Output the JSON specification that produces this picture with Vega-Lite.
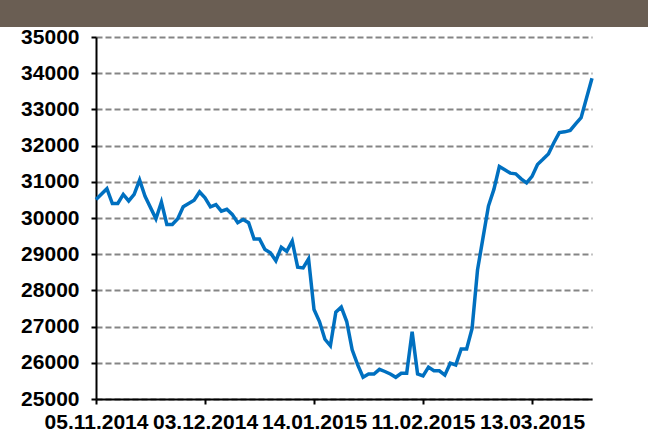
{
  "$schema": "https://vega.github.io/schema/vega-lite/v6.json",
  "padding": 0,
  "background": "white",
  "bounds": "flush",
  "spacing": 10,
  "config": {
    "view": {"stroke": null},
    "axis": {
      "labelFont": "Liberation Sans",
      "labelFontWeight": "bold",
      "labelFontSize": 21,
      "labelColor": "black",
      "domainColor": "black",
      "domainWidth": 2,
      "tickColor": "black",
      "tickWidth": 2,
      "tickSize": 5,
      "title": null
    }
  },
  "vconcat": [
    {
      "width": 648,
      "height": 27,
      "view": {"fill": "#6a5e53", "stroke": null},
      "data": {"values": [{}]},
      "mark": {"type": "text", "opacity": 0},
      "encoding": {}
    },
    {
      "bounds": "flush",
      "spacing": 0,
      "hconcat": [
        {
          "width": 96,
          "height": 362,
          "data": {"values": [{}]},
          "mark": {"type": "text", "opacity": 0},
          "encoding": {}
        },
        {
          "width": 496,
          "height": 362,
          "data": {
            "values": [
              {"day": 0, "value": 30510}, {"day": 2, "value": 30810}, {"day": 3, "value": 30400}, {"day": 4, "value": 30400},
              {"day": 5, "value": 30650}, {"day": 6, "value": 30470}, {"day": 7, "value": 30650}, {"day": 8, "value": 31050},
              {"day": 9, "value": 30600}, {"day": 11, "value": 29980}, {"day": 12, "value": 30440}, {"day": 13, "value": 29820},
              {"day": 14, "value": 29820}, {"day": 15, "value": 29980}, {"day": 16, "value": 30310}, {"day": 18, "value": 30490},
              {"day": 19, "value": 30720}, {"day": 20, "value": 30560}, {"day": 21, "value": 30310}, {"day": 22, "value": 30370},
              {"day": 23, "value": 30190}, {"day": 24, "value": 30240}, {"day": 25, "value": 30100}, {"day": 26, "value": 29870},
              {"day": 27, "value": 29960}, {"day": 28, "value": 29870}, {"day": 29, "value": 29420}, {"day": 30, "value": 29420},
              {"day": 31, "value": 29130}, {"day": 32, "value": 29040}, {"day": 33, "value": 28820}, {"day": 34, "value": 29190},
              {"day": 35, "value": 29080}, {"day": 36, "value": 29360}, {"day": 37, "value": 28640}, {"day": 38, "value": 28620},
              {"day": 39, "value": 28870}, {"day": 40, "value": 27470}, {"day": 41, "value": 27140}, {"day": 42, "value": 26650},
              {"day": 43, "value": 26470}, {"day": 44, "value": 27400}, {"day": 45, "value": 27540}, {"day": 46, "value": 27140},
              {"day": 47, "value": 26360}, {"day": 48, "value": 25950}, {"day": 49, "value": 25600}, {"day": 50, "value": 25690},
              {"day": 51, "value": 25690}, {"day": 52, "value": 25820}, {"day": 53, "value": 25760}, {"day": 54, "value": 25690},
              {"day": 55, "value": 25600}, {"day": 56, "value": 25710}, {"day": 57, "value": 25710}, {"day": 58, "value": 26860},
              {"day": 59, "value": 25690}, {"day": 60, "value": 25640}, {"day": 61, "value": 25880}, {"day": 62, "value": 25780},
              {"day": 63, "value": 25780}, {"day": 64, "value": 25660}, {"day": 65, "value": 25990}, {"day": 66, "value": 25940},
              {"day": 67, "value": 26380}, {"day": 68, "value": 26380}, {"day": 69, "value": 26950}, {"day": 70, "value": 28570},
              {"day": 71, "value": 29450}, {"day": 72, "value": 30330}, {"day": 73, "value": 30790}, {"day": 74, "value": 31420},
              {"day": 75, "value": 31330}, {"day": 76, "value": 31240}, {"day": 77, "value": 31220}, {"day": 78, "value": 31080},
              {"day": 79, "value": 30970}, {"day": 80, "value": 31150}, {"day": 81, "value": 31480}, {"day": 82, "value": 31620},
              {"day": 83, "value": 31770}, {"day": 84, "value": 32080}, {"day": 85, "value": 32360}, {"day": 86, "value": 32380},
              {"day": 87, "value": 32420}, {"day": 88, "value": 32600}, {"day": 89, "value": 32770}, {"day": 91, "value": 33860}
            ]
          },
          "mark": {"type": "line", "color": "#0070c0", "strokeWidth": 3.5, "strokeJoin": "miter"},
          "encoding": {
            "x": {
              "field": "day",
              "type": "quantitative",
              "scale": {"domain": [0, 91], "nice": false, "zero": false},
              "axis": {
                "values": [0, 20, 40, 60, 80],
                "labelExpr": "{'0': '05.11.2014', '20': '03.12.2014', '40': '14.01.2015', '60': '11.02.2015', '80': '13.03.2015'}[datum.value]",
                "grid": false,
                "labelOverlap": false,
                "labelFlush": false,
                "labelBound": false,
                "labelPadding": 7
              }
            },
            "y": {
              "field": "value",
              "type": "quantitative",
              "scale": {"domain": [25000, 35000], "nice": false, "zero": false},
              "axis": {
                "values": [25000, 26000, 27000, 28000, 29000, 30000, 31000, 32000, 33000, 34000, 35000],
                "format": "d",
                "grid": true,
                "gridColor": "#858585",
                "gridDash": [6, 3],
                "gridWidth": 2,
                "labelPadding": 12
              }
            }
          }
        }
      ]
    }
  ]
}
